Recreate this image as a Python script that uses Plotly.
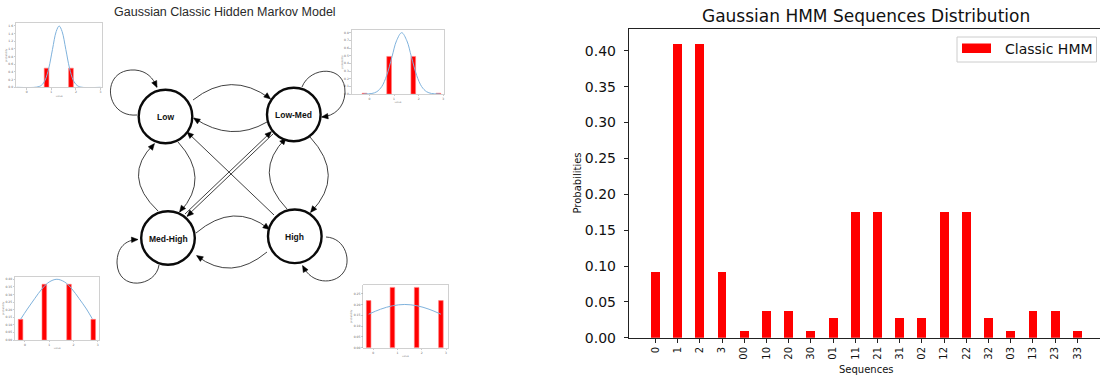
import plotly.graph_objects as go

# ------------------------------------------------------------------
# Data: right-hand bar chart
# ------------------------------------------------------------------
sequences = ["0", "1", "2", "3", "00", "10", "20", "30", "01", "11",
             "21", "31", "02", "12", "22", "32", "03", "13", "23", "33"]
probabilities = [0.091, 0.41, 0.41, 0.091, 0.009, 0.037, 0.037, 0.009, 0.028, 0.175,
                 0.175, 0.028, 0.028, 0.175, 0.175, 0.028, 0.009, 0.037, 0.037, 0.009]
prob_tick_vals = [0.00, 0.05, 0.10, 0.15, 0.20, 0.25, 0.30, 0.35, 0.40]
prob_tick_text = ["0.00", "0.05", "0.10", "0.15", "0.20", "0.25", "0.30", "0.35", "0.40"]
series_name = "Classic HMM"

# ------------------------------------------------------------------
# Data: left-hand diagram (states, transitions, emission insets)
# ------------------------------------------------------------------
state_names = ["Low", "Low-Med", "Med-High", "High"]
transitions = [("Low", "Low"), ("Low-Med", "Low-Med"), ("Med-High", "Med-High"), ("High", "High"),
               ("Low", "Low-Med"), ("Low-Med", "Low"), ("Med-High", "High"), ("High", "Med-High"),
               ("Med-High", "Low"), ("Low", "Med-High"), ("High", "Low-Med"), ("Low-Med", "High"),
               ("High", "Low"), ("Med-High", "Low-Med"), ("Low-Med", "Med-High")]

inset_x_ticks = [0, 1, 2, 3]
inset_x_text = ["0", "1", "2", "3"]

# Low state emission
low_bar_x = [0.81, 1.80]
low_bar_y = [0.50, 0.50]
low_curve_x = [-0.40, 0.40, 0.60, 0.75, 0.90, 1.05, 1.20, 1.32, 1.44, 1.59, 1.74, 1.89, 2.04, 2.20, 3.00]
low_curve_y = [0.0, 0.005, 0.052, 0.187, 0.50, 0.99, 1.455, 1.60, 1.455, 0.99, 0.50, 0.187, 0.052, 0.005, 0.0]
low_y_ticks = [0.0, 0.2, 0.4, 0.6, 0.8, 1.0, 1.2, 1.4, 1.6]
low_y_text = ["0.0", "0.2", "0.4", "0.6", "0.8", "1.0", "1.2", "1.4", "1.6"]

# Low-Med state emission
lowmed_bar_x = [-0.20, 0.80, 1.78, 2.80]
lowmed_bar_y = [0.01, 0.49, 0.49, 0.01]
lowmed_curve_x = [-0.24, 0.10, 0.30, 0.50, 0.70, 0.92, 1.10, 1.31, 1.52, 1.70, 1.92, 2.12, 2.32, 2.52, 2.86]
lowmed_curve_y = [0.0, 0.007, 0.030, 0.097, 0.241, 0.49, 0.694, 0.80, 0.694, 0.49, 0.241, 0.097, 0.030, 0.007, 0.0]
lowmed_y_ticks = [0.0, 0.1, 0.2, 0.3, 0.4, 0.5, 0.6, 0.7, 0.8]
lowmed_y_text = ["0.0", "0.1", "0.2", "0.3", "0.4", "0.5", "0.6", "0.7", "0.8"]

# Med-High state emission
medhigh_bar_x = [-0.18, 0.80, 1.82, 2.82]
medhigh_bar_y = [0.136, 0.367, 0.367, 0.136]
medhigh_curve_x = [-0.18, 0.10, 0.40, 0.70, 1.00, 1.32, 1.64, 1.94, 2.24, 2.54, 2.78]
medhigh_curve_y = [0.136, 0.204, 0.272, 0.336, 0.382, 0.40, 0.382, 0.336, 0.272, 0.204, 0.14]
medhigh_y_ticks = [0.0, 0.05, 0.10, 0.15, 0.20, 0.25, 0.30, 0.35, 0.40]
medhigh_y_text = ["0.00", "0.05", "0.10", "0.15", "0.20", "0.25", "0.30", "0.35", "0.40"]

# High state emission
high_bar_x = [-0.19, 0.79, 1.79, 2.79]
high_bar_y = [0.218, 0.279, 0.279, 0.218]
high_curve_x = [-0.19, 0.30, 0.80, 1.30, 1.80, 2.30, 2.79]
high_curve_y = [0.155, 0.178, 0.194, 0.200, 0.194, 0.178, 0.155]
high_y_ticks = [0.0, 0.05, 0.10, 0.15, 0.20, 0.25]
high_y_text = ["0.00", "0.05", "0.10", "0.15", "0.20", "0.25"]

# ------------------------------------------------------------------
# Layout helpers (pixel geometry of the page)
# ------------------------------------------------------------------
W, H = 1100, 378


def px(x):
    return x / W


def py(y):
    return 1 - y / H


fig = go.Figure()

# ---------------- Bar chart ----------------
fig.add_trace(go.Bar(x=sequences, y=probabilities, name=series_name,
                     marker=dict(color="#ff0000", line=dict(width=0)),
                     width=0.4, xaxis="x", yaxis="y", showlegend=False))

axis_col = "#222222"
layout = dict(
    width=W, height=H,
    margin=dict(l=0, r=0, t=0, b=0),
    paper_bgcolor="white", plot_bgcolor="rgba(0,0,0,0)",
    font=dict(family="DejaVu Sans", color="#111111"),
    showlegend=False,
    bargap=0,
    xaxis=dict(domain=[px(629), 1.0], type="category", range=[-1.19, 20.02],
               showline=True, linecolor=axis_col, linewidth=1.2, mirror=True,
               ticks="outside", ticklen=4, tickcolor=axis_col, tickwidth=1,
               tickangle=-90, tickfont=dict(size=10, color="#111"),
               showgrid=False, zeroline=False, automargin=False, anchor="y",
               fixedrange=True),
    yaxis=dict(domain=[py(337.7), py(29.3)], range=[0, 0.4301],
               tickvals=prob_tick_vals, ticktext=prob_tick_text,
               showline=True, linecolor=axis_col, linewidth=1.2,
               ticks="outside", ticklen=4, tickcolor=axis_col, tickwidth=1,
               ticklabelstandoff=5,
               tickfont=dict(size=14, color="#111"),
               showgrid=False, zeroline=False, automargin=False, anchor="x",
               fixedrange=True),
    # overlay pixel axis for the diagram and free text
    xaxis2=dict(domain=[0, 1], range=[0, W], visible=False, anchor="y2", fixedrange=True),
    yaxis2=dict(domain=[0, 1], range=[H, 0], visible=False, anchor="x2", fixedrange=True),
)

shapes = []
annotations = []

# Titles and axis labels of bar chart
annotations.append(dict(x=866, y=15.5, xref="x2", yref="y2", text="Gaussian HMM Sequences Distribution",
                        showarrow=False, font=dict(size=17, family="DejaVu Sans", color="#111"),
                        xanchor="center", yanchor="middle"))
annotations.append(dict(x=866, y=369.5, xref="x2", yref="y2", text="Sequences", showarrow=False,
                        font=dict(size=10, family="DejaVu Sans", color="#111"),
                        xanchor="center", yanchor="middle"))
annotations.append(dict(x=577, y=183.5, xref="x2", yref="y2", text="Probabilities", showarrow=False,
                        textangle=-90, font=dict(size=10, family="DejaVu Sans", color="#111"),
                        xanchor="center", yanchor="middle"))

# Legend (matplotlib-like box)
shapes.append(dict(type="rect", xref="x2", yref="y2", x0=957, x1=1096.5, y0=37, y1=62,
                   line=dict(color="#cccccc", width=1), fillcolor="rgba(255,255,255,0.85)", layer="above"))
shapes.append(dict(type="rect", xref="x2", yref="y2", x0=962, x1=991, y0=43.5, y1=53,
                   line=dict(width=0), fillcolor="#ff0000", layer="above"))
annotations.append(dict(x=1002.5, y=48.5, xref="x2", yref="y2", text=series_name, showarrow=False,
                        font=dict(size=14, family="DejaVu Sans", color="#111"),
                        xanchor="left", yanchor="middle"))

# ---------------- Diagram ----------------
annotations.append(dict(x=224.5, y=12, xref="x2", yref="y2", text="Gaussian Classic Hidden Markov Model",
                        showarrow=False, font=dict(size=12.5, family="Liberation Sans", color="#2a2a2a"),
                        xanchor="center", yanchor="middle"))

node_pos = {"Low": (165.5, 116.5), "Low-Med": (293.8, 114.5),
            "Med-High": (168, 238), "High": (294.8, 236.3)}
node_r = 26.8

# geometry for each transition: (svg path, arrow tip, point behind tip)
edge_geom = {
    ("Low", "Low"): ("M137,115 C104,118 100,68 135,70 C147,71 153,78 157,87", (157, 87.5), (152, 77)),
    ("Low-Med", "Low-Med"): ("M302,87 C310,66 346,64 345,93 C344,108 334,116 322,117", (321.5, 117), (333, 115.5)),
    ("Med-High", "Med-High"): ("M159,265 C156,287 118,292 117,263 C117,247 126,240 137.5,239.5", (138, 239.5), (127, 240)),
    ("High", "High"): ("M326,237 C346,238 352,262 343,273 C334,285 311,284 303,266", (302.5, 265.5), (309, 277)),
    ("Low", "Low-Med"): ("M193,100 Q231,70 270,98.5", (270.5, 99), (257, 88)),
    ("Low-Med", "Low"): ("M267,122 Q231,143 194,118", (193.5, 118), (208, 127.5)),
    ("Med-High", "High"): ("M196,233 Q234,201 269,229", (269.5, 229.5), (256, 219)),
    ("High", "Med-High"): ("M267,252 Q231,282 197,256", (196.5, 255.5), (210, 264.5)),
    ("Med-High", "Low"): ("M158,211 Q121,176 154,144", (154.5, 143.5), (146, 154)),
    ("Low", "Med-High"): ("M178,142 Q211,178 180,212", (179.5, 212), (188, 201)),
    ("High", "Low-Med"): ("M287,209 Q252,172 286,138", (286, 138), (277.5, 148)),
    ("Low-Med", "High"): ("M310,137 Q346,176 311,212", (310.5, 212.5), (320, 201)),
    ("High", "Low"): ("M274,215 L187,132", (187, 132), (195, 139.6)),
    ("Med-High", "Low-Med"): ("M185,214 L271,132", (271.5, 131.5), (263.5, 139.2)),
    ("Low-Med", "Med-High"): ("M273,134 L187,216", (187, 216.5), (195, 208.8)),
}

edge_col = "#2b2b2b"


def arrow_head(tip, back, length=6.5, width=5.5):
    tx, ty = tip
    bx, by = back
    dx, dy = tx - bx, ty - by
    n = (dx * dx + dy * dy) ** 0.5
    ux, uy = dx / n, dy / n
    baseX, baseY = tx - ux * length, ty - uy * length
    pxv, pyv = -uy * width / 2, ux * width / 2
    return (f"M{tx:.2f},{ty:.2f} L{baseX + pxv:.2f},{baseY + pyv:.2f} "
            f"L{baseX - pxv:.2f},{baseY - pyv:.2f} Z")


for tr in transitions:
    path, tip, back = edge_geom[tr]
    shapes.append(dict(type="path", path=path, xref="x2", yref="y2",
                       line=dict(color=edge_col, width=0.9), layer="above"))
    shapes.append(dict(type="path", path=arrow_head(tip, back), xref="x2", yref="y2",
                       line=dict(color="#000", width=0.5), fillcolor="#000", layer="above"))

for name in state_names:
    cx, cy = node_pos[name]
    shapes.append(dict(type="circle", xref="x2", yref="y2",
                       x0=cx - node_r, x1=cx + node_r, y0=cy - node_r, y1=cy + node_r,
                       line=dict(color="#0a0a0a", width=2.4), fillcolor="white", layer="above"))
    annotations.append(dict(x=cx, y=cy + 0.5, xref="x2", yref="y2", text=f"<b>{name}</b>",
                            showarrow=False, font=dict(size=8.5, family="Liberation Sans", color="#111"),
                            xanchor="center", yanchor="middle"))

# ---------------- Emission insets ----------------
insets = [
    (3, (16, 23.3, 102.3, 87.3), [-0.43, 3.07], [0, 1.67], low_bar_x, low_bar_y,
     low_curve_x, low_curve_y, low_y_ticks, low_y_text),
    (4, (351.7, 30, 444.3, 94), [-0.72, 3.04], [0, 0.835], lowmed_bar_x, lowmed_bar_y,
     lowmed_curve_x, lowmed_curve_y, lowmed_y_ticks, lowmed_y_text),
    (5, (15, 276.7, 99.3, 340), [-0.41, 3.07], [0, 0.417], medhigh_bar_x, medhigh_bar_y,
     medhigh_curve_x, medhigh_curve_y, medhigh_y_ticks, medhigh_y_text),
    (6, (363.3, 285, 447.7, 347.7), [-0.41, 3.07], [0, 0.29], high_bar_x, high_bar_y,
     high_curve_x, high_curve_y, high_y_ticks, high_y_text),
]

tiny = dict(size=3, color="#666", family="DejaVu Sans")
for idx, (x0, y0, x1, y1), xr, yr, bx, byv, cxs, cys, ytv, ytt in insets:
    xa, ya = f"x{idx}", f"y{idx}"
    fig.add_trace(go.Bar(x=bx, y=byv, width=0.19, xaxis=xa, yaxis=ya,
                         marker=dict(color="#ff0000", line=dict(color="#ff8080", width=0.6)),
                         showlegend=False))
    fig.add_trace(go.Scatter(x=cxs, y=cys, mode="lines", xaxis=xa, yaxis=ya,
                             line=dict(color="#7fb2dc", width=1, shape="spline", smoothing=1.0),
                             showlegend=False))
    layout[f"xaxis{idx}"] = dict(domain=[px(x0), px(x1)], range=xr, anchor=ya,
                                 showline=True, linecolor="#c4c4c4", linewidth=0.8, mirror=True,
                                 ticks="outside", ticklen=1.5, tickcolor="#999", tickwidth=0.5,
                                 tickvals=inset_x_ticks, ticktext=inset_x_text, tickfont=tiny,
                                 showgrid=False, zeroline=False, automargin=False, fixedrange=True,
                                 title=dict(text="value", font=dict(size=2.5, color="#888"), standoff=1))
    layout[f"yaxis{idx}"] = dict(domain=[py(y1), py(y0)], range=yr, anchor=xa,
                                 showline=True, linecolor="#c4c4c4", linewidth=0.8, mirror=True,
                                 ticks="outside", ticklen=1.5, tickcolor="#999", tickwidth=0.5,
                                 tickvals=ytv, ticktext=ytt, tickfont=tiny,
                                 showgrid=False, zeroline=False, automargin=False, fixedrange=True,
                                 title=dict(text="probability", font=dict(size=2.5, color="#888"), standoff=1))

layout["shapes"] = shapes
layout["annotations"] = annotations
fig.update_layout(**layout)

fig.write_html("out.html",
               config={"displayModeBar": False, "staticPlot": True},
               post_script="document.body.style.margin='0px';document.body.style.overflow='hidden';")
